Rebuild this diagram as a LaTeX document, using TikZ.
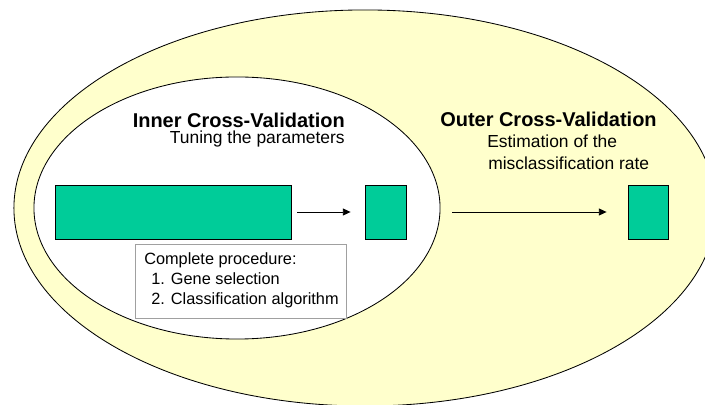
\documentclass[tikz,border=0pt]{standalone}
\usepackage{fontspec}
\setmainfont{Liberation Sans}
\usetikzlibrary{shapes.geometric,arrows.meta}

\definecolor{cvgreen}{HTML}{00CC99}
\definecolor{cvyellow}{HTML}{FFFFCC}
\definecolor{cvgray}{HTML}{A0A0A0}

\begin{document}
\begin{tikzpicture}[x=0.025cm,y=-0.025cm,
        loop/.style={draw=black,line width=0.6pt,ellipse,inner sep=0pt},
        datablock/.style={draw=black,line width=0.6pt,fill=cvgreen,inner sep=0pt},
        cvtitle/.style={font=\fontsize{14.2}{17}\selectfont\bfseries,inner sep=0pt},
        cvnote/.style={font=\fontsize{12.4}{15.6}\selectfont,inner sep=0pt},
        flow/.style={-{Triangle[length=5.5pt,width=5pt]},line width=0.6pt}]
        \clip (0,0) rectangle (705,405);

        % the two loops
        \node[loop,fill=cvyellow,minimum width=17.55cm,minimum height=9.9cm] (outer) at (365,208) {};
        \node[loop,fill=white,minimum width=10.15cm,minimum height=6.55cm] (inner) at (237,208) {};

        % titles
        \node[cvtitle,anchor=base east] (innertitle) at (345,128) {Inner Cross-Validation};
        \node[cvnote,anchor=base east] (innernote) at (345,144) {Tuning the parameters};
        \node[cvtitle,anchor=base west] (outertitle) at (440,127) {Outer Cross-Validation};
        \node[cvnote,anchor=base west] (outernote) at (487,148) {Estimation of the};
        \node[cvnote,anchor=base west] (outernotetwo) at (488,170) {misclassification rate};

        % data blocks
        \node[datablock,minimum width=5.9cm,minimum height=1.35cm] (trainset) at (173,212) {};
        \node[datablock,minimum width=1.025cm,minimum height=1.35cm] (model) at (385.5,212) {};
        \node[datablock,minimum width=1cm,minimum height=1.35cm] (outmodel) at (648,212) {};

        \draw[flow,shorten <=0.15cm,shorten >=0.35cm] (trainset.east) -- (model.west);
        \draw[flow,shorten <=1.15cm,shorten >=0.525cm] (model.east) -- (outmodel.west);

        % procedure box
        \node[draw=cvgray,line width=0.6pt,fill=white,minimum width=5.275cm,minimum height=1.85cm,
            inner sep=0pt,anchor=north west] (proc) at (135,244) {};
        \node[anchor=north west,align=left,inner sep=0pt,
            font=\fontsize{11.6}{14.2}\selectfont] (proctext) at (144,252.3)
            {Complete procedure:\\\hspace*{5pt}1. Gene selection\\\hspace*{5pt}2. Classification algorithm};
    \end{tikzpicture}
\end{document}
